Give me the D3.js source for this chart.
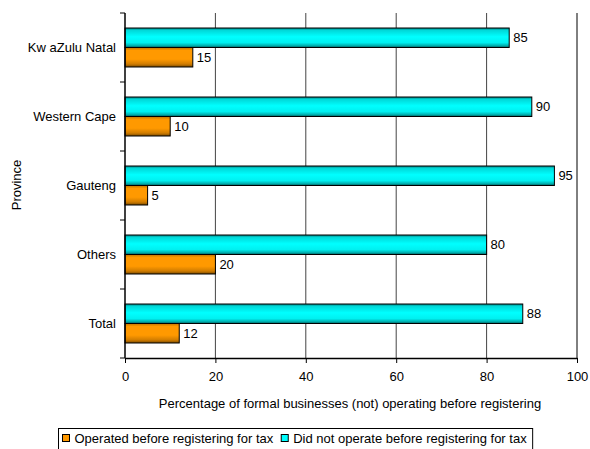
<!DOCTYPE html>
<html>
<head>
<meta charset="utf-8">
<script src="https://cdn.jsdelivr.net/npm/d3@7"></script>
<style>
  body { margin: 0; background: #fff; }
  svg { display: block; font-family: "Liberation Sans", Arial, sans-serif; }
</style>
</head>
<body>
<svg id="chart" width="590" height="449"></svg>
<script>
// Provinces, top to bottom
const provinces = ["Kw aZulu Natal", "Western Cape", "Gauteng", "Others", "Total"];
// Share of formal businesses that operated before registering for tax (%)
const operated = [15, 10, 5, 20, 12];
// Share that did not operate before registering for tax (%)
const notOperated = [85, 90, 95, 80, 88];
const xTicks = [0, 20, 40, 60, 80, 100];
const seriesNames = ["Operated before registering for tax", "Did not operate before registering for tax"];

const FS = 13;
const svg = d3.select("#chart");
const margin = { left: 125, right: 13, top: 13, bottom: 91 };
const W = 590, H = 449;
const pw = W - margin.left - margin.right;
const ph = H - margin.top - margin.bottom;

const defs = svg.append("defs");
function grad(id, stops) {
  const g = defs.append("linearGradient").attr("id", id)
    .attr("x1", 0).attr("y1", 0).attr("x2", 0).attr("y2", 1);
  stops.forEach(([o, c]) => g.append("stop").attr("offset", o).attr("stop-color", c));
}
grad("gCyan", [[0, "#007f7f"], [0.12, "#00d8d8"], [0.45, "#00ffff"], [0.75, "#00f0f0"], [0.9, "#00b0b0"], [1, "#006060"]]);
grad("gOrange", [[0, "#c07400"], [0.15, "#ff9900"], [0.6, "#ff9900"], [0.85, "#d07c00"], [1, "#7a4a00"]]);

const g = svg.append("g").attr("transform", `translate(${margin.left},${margin.top})`);

const x = d3.scaleLinear().domain([0, 100]).range([0, pw]);
const y = d3.scaleBand().domain(provinces).range([0, ph]).paddingInner(0.435).paddingOuter(0.2175);
const sub = d3.scaleBand().domain([1, 0]).range([0, y.bandwidth()]);

// vertical gridlines
g.selectAll("line.grid").data(xTicks.slice(1)).join("line")
  .attr("x1", d => x(d)).attr("x2", d => x(d))
  .attr("y1", 0).attr("y2", ph)
  .attr("stroke", d => d === 100 ? "#000" : "#444").attr("stroke-width", 1);

const rows = provinces.map((p, i) => ({ p, vals: [operated[i], notOperated[i]] }));
const series = [
  { key: 0, fill: "url(#gOrange)" },
  { key: 1, fill: "url(#gCyan)" }
];

series.forEach(s => {
  g.selectAll(null).data(rows).join("rect")
    .attr("x", x(0))
    .attr("y", d => y(d.p) + sub(s.key))
    .attr("width", d => x(d.vals[s.key]) - x(0))
    .attr("height", sub.bandwidth())
    .attr("fill", s.fill)
    .attr("stroke", "#000").attr("stroke-width", 1);
  g.selectAll(null).data(rows).join("text")
    .attr("x", d => x(d.vals[s.key]) + 4)
    .attr("y", d => y(d.p) + sub(s.key) + sub.bandwidth() / 2)
    .attr("dy", "0.35em")
    .attr("font-size", FS).attr("fill", "#000")
    .text(d => d.vals[s.key]);
});

// x axis
const xAxis = g.append("g").attr("transform", `translate(0,${ph})`)
  .call(d3.axisBottom(x).tickValues(xTicks).tickSize(5).tickSizeOuter(0).tickPadding(9));
xAxis.select(".domain").attr("stroke", "#000").attr("stroke-width", 1.5);
xAxis.selectAll("text").attr("font-size", FS).attr("font-family", "Liberation Sans, Arial, sans-serif").attr("fill", "#000");

// y axis: category labels centred in bands, ticks on band boundaries
const yAxisG = g.append("g");
yAxisG.append("line").attr("x1", 0).attr("x2", 0).attr("y1", 0).attr("y2", ph)
  .attr("stroke", "#000").attr("stroke-width", 1.5);
const bounds = d3.range(provinces.length + 1).map(i => i * y.step());
yAxisG.selectAll("line.tk").data(bounds).join("line")
  .attr("x1", -5).attr("x2", 0).attr("y1", d => d).attr("y2", d => d)
  .attr("stroke", "#000");
yAxisG.selectAll("text").data(provinces).join("text")
  .attr("x", -9)
  .attr("y", d => y(d) + y.bandwidth() / 2)
  .attr("dy", "0.35em").attr("text-anchor", "end")
  .attr("font-size", FS).attr("fill", "#000")
  .text(d => d);

// axis titles
svg.append("text").attr("x", margin.left + pw / 2 - 1).attr("y", 408)
  .attr("text-anchor", "middle").attr("font-size", FS).text("Percentage of formal businesses (not) operating before registering");
svg.append("text").attr("transform", "translate(21,185) rotate(-90)")
  .attr("text-anchor", "middle").attr("font-size", FS).text("Province");

// legend
const lg = svg.append("g").attr("transform", "translate(58.5,428.5)");
const box = lg.append("rect").attr("height", 24).attr("fill", "#fff").attr("stroke", "#000");
let cx = 4;
seriesNames.forEach((name, i) => {
  lg.append("rect").attr("x", cx).attr("y", 6).attr("width", 7).attr("height", 7)
    .attr("fill", i === 0 ? "#ff9900" : "#00ffff").attr("stroke", "#000");
  const t = lg.append("text").attr("x", cx + 12).attr("y", 10).attr("dy", "0.35em")
    .attr("font-size", FS).text(name);
  cx += 12 + t.node().getComputedTextLength() + 8;
});
box.attr("width", cx - 2);
</script>
</body>
</html>
